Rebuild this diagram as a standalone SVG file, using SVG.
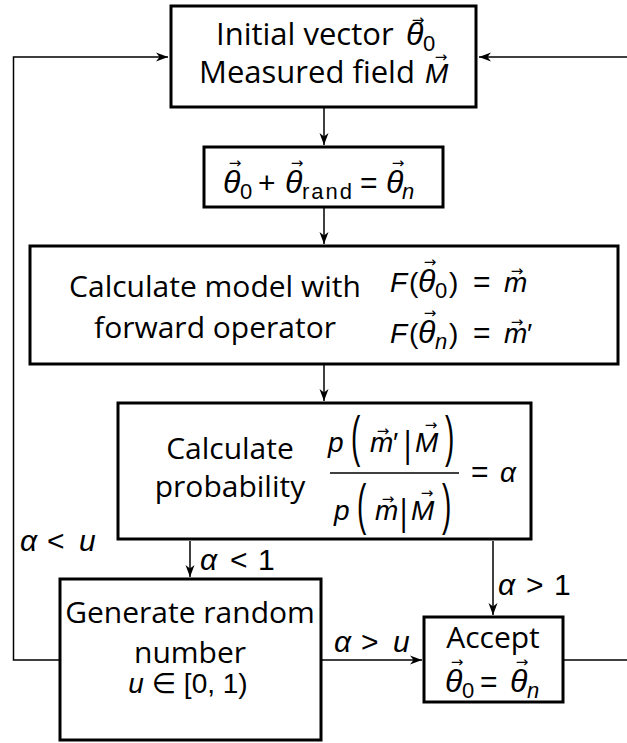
<svg xmlns="http://www.w3.org/2000/svg" width="627" height="743" viewBox="0 0 627 743">
<style>
.box{fill:#fff;stroke:#000;stroke-width:3}
.t{font-family:"Open Sans","Noto Sans",sans-serif;font-size:30px;fill:#000}
.m{font-family:"Liberation Sans","DejaVu Sans",sans-serif;font-size:28px;fill:#000}
.th{font-family:"Liberation Sans","DejaVu Sans",sans-serif;font-size:32px;font-style:italic;fill:#000}
.op{font-family:"Liberation Sans","DejaVu Sans",sans-serif;font-size:30px;fill:#000}
.i{font-style:italic}
.s{font-family:"Liberation Sans","DejaVu Sans",sans-serif;font-size:22px;fill:#000}
.v{font-family:"DejaVu Sans",sans-serif;font-size:15px;fill:#000;text-anchor:middle}
.c{fill:none;stroke:#000;stroke-width:1.5}
</style>
<defs>
<marker id="ah" viewBox="-12 -5 13 10" markerWidth="13" markerHeight="10" refX="0" refY="0" orient="auto" markerUnits="userSpaceOnUse">
<path d="M0,0 L-12,-4.5 L-8.5,0 L-12,4.5 Z" fill="#000"/>
</marker>
</defs>
<g id="connectors">
<polyline class="c" points="60,660 13.5,660 13.5,57 168,57" marker-end="url(#ah)"/>
<line class="c" x1="627" y1="57" x2="479" y2="57" marker-end="url(#ah)"/>
<line class="c" x1="324" y1="108" x2="324" y2="145" marker-end="url(#ah)"/>
<line class="c" x1="324" y1="208" x2="324" y2="244" marker-end="url(#ah)"/>
<line class="c" x1="324" y1="365" x2="324" y2="401" marker-end="url(#ah)"/>
<line class="c" x1="190" y1="541" x2="190" y2="577" marker-end="url(#ah)"/>
<line class="c" x1="493" y1="541" x2="493" y2="615" marker-end="url(#ah)"/>
<line class="c" x1="322" y1="660" x2="422" y2="660" marker-end="url(#ah)"/>
<line class="c" x1="564" y1="660" x2="627" y2="660"/>
<text class="op i" x="20" y="551">α</text>
<text class="op" x="47" y="551">&lt;</text>
<text class="op i" x="79" y="551">u</text>
<text class="op i" x="200" y="570">α</text>
<text class="op" x="230" y="570">&lt;</text>
<text class="op" x="258" y="570">1</text>
<text class="op i" x="498" y="595">α</text>
<text class="op" x="526" y="595">&gt;</text>
<text class="op" x="554" y="595">1</text>
<text class="op i" x="334" y="652">α</text>
<text class="op" x="361" y="652">&gt;</text>
<text class="op i" x="393" y="652">u</text>
</g>
<g id="n-init">
<rect class="box" x="171" y="6" width="305" height="101"/>
<text class="t" x="216" y="45" style="font-size:31px">Initial vector</text>
<text class="th" x="406" y="45">θ</text>
<text class="s" x="423" y="51">0</text>
<text class="v" x="418" y="25">→</text>
<text class="t" x="199" y="83" style="font-size:31px">Measured field</text>
<text class="m i" x="425" y="83">M</text>
<text class="v" x="441" y="62">→</text>
</g>
<g id="n-rand">
<rect class="box" x="204" y="147" width="239" height="60"/>
<text class="th" x="223" y="193">θ</text>
<text class="v" x="235" y="168">→</text>
<text class="s" x="240" y="199">0</text>
<text class="op" x="258" y="193">+</text>
<text class="th" x="285" y="193">θ</text>
<text class="v" x="297" y="168">→</text>
<text class="s" x="302" y="199" textLength="50">rand</text>
<text class="op" x="360" y="193">=</text>
<text class="th" x="386" y="193">θ</text>
<text class="v" x="398" y="168">→</text>
<text class="s i" x="402" y="199">n</text>
</g>
<g id="n-model">
<rect class="box" x="30" y="246" width="588" height="118"/>
<text class="t" x="215" y="297" text-anchor="middle">Calculate model with</text>
<text class="t" x="215" y="338" text-anchor="middle">forward operator</text>
<text class="m i" x="390" y="292">F</text>
<text class="m" x="409" y="292">(</text>
<text class="th" x="418" y="292">θ</text>
<text class="v" x="430" y="267">→</text>
<text class="s" x="435" y="298">0</text>
<text class="m" x="449" y="292">)</text>
<text class="op" x="473" y="292">=</text>
<text class="m i" x="504" y="292">m</text>
<text class="v" x="517" y="276">→</text>
<text class="m i" x="390" y="343">F</text>
<text class="m" x="409" y="343">(</text>
<text class="th" x="418" y="343">θ</text>
<text class="v" x="430" y="318">→</text>
<text class="s i" x="435" y="349">n</text>
<text class="m" x="449" y="343">)</text>
<text class="op" x="473" y="343">=</text>
<text class="m i" x="504" y="343">m</text>
<text class="v" x="517" y="327">→</text>
<text class="m" x="527" y="343">′</text>
</g>
<g id="n-prob">
<rect class="box" x="118" y="403" width="413" height="136"/>
<text class="t" x="230" y="459" text-anchor="middle">Calculate</text>
<text class="t" x="230" y="497" text-anchor="middle">probability</text>
<text class="m i" x="328" y="452">p</text>
<text class="m" transform="translate(351,455) scale(1,2)">(</text>
<text class="m i" x="370" y="452">m</text>
<text class="v" x="383" y="436">→</text>
<text class="m" x="393" y="452">′</text>
<text class="m" transform="translate(404,457) scale(1,1.35)">|</text>
<text class="m i" x="415" y="452">M</text>
<text class="v" x="431" y="430">→</text>
<text class="m" transform="translate(445,455) scale(1,2)">)</text>
<line x1="330" y1="473" x2="459" y2="473" stroke="#000" stroke-width="1.5"/>
<text class="m i" x="334" y="520">p</text>
<text class="m" transform="translate(357,523) scale(1,2)">(</text>
<text class="m i" x="375" y="520">m</text>
<text class="v" x="388" y="504">→</text>
<text class="m" transform="translate(400,525) scale(1,1.35)">|</text>
<text class="m i" x="411" y="520">M</text>
<text class="v" x="427" y="498">→</text>
<text class="m" transform="translate(442,523) scale(1,2)">)</text>
<text class="op" x="471" y="482">=</text>
<text class="m i" x="500" y="482">α</text>
</g>
<g id="n-gen">
<rect class="box" x="60" y="579" width="261" height="161"/>
<text class="t" x="190" y="623" text-anchor="middle">Generate random</text>
<text class="t" x="190" y="663" text-anchor="middle">number</text>
<text class="m" x="188" y="693" text-anchor="middle"><tspan class="i">u</tspan> ∈ [0, 1)</text>
</g>
<g id="n-accept">
<rect class="box" x="424" y="617" width="139" height="85"/>
<text class="t" x="493" y="648" text-anchor="middle">Accept</text>
<text class="th" x="445" y="692">θ</text>
<text class="v" x="457" y="667">→</text>
<text class="s" x="462" y="698">0</text>
<text class="op" x="480" y="692">=</text>
<text class="th" x="510" y="692">θ</text>
<text class="v" x="522" y="667">→</text>
<text class="s i" x="527" y="698">n</text>
</g>
</svg>
